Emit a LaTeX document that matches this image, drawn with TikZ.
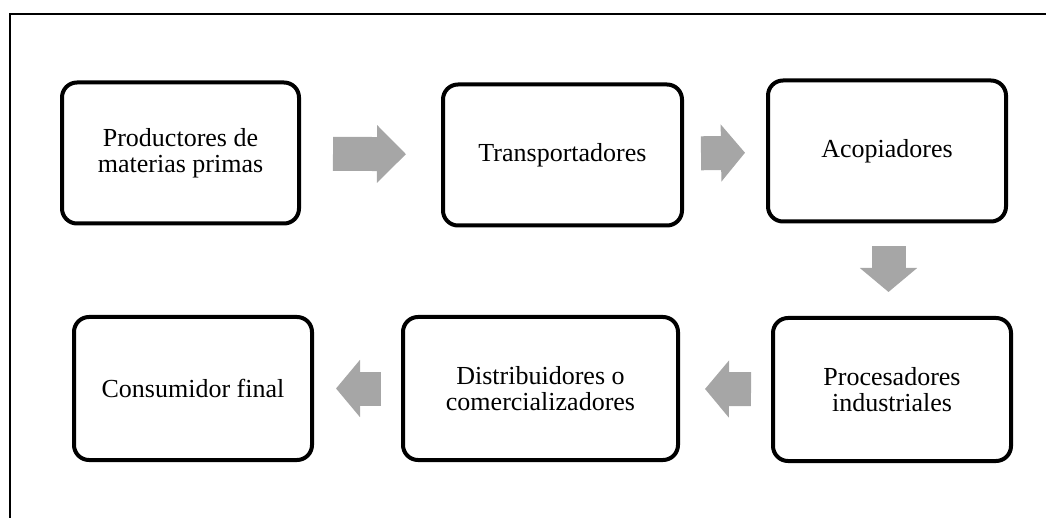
\documentclass[tikz,border=0pt]{standalone}
\usepackage{fontspec}
\setmainfont{Liberation Serif}
\usetikzlibrary{arrows.meta}
\definecolor{flechagris}{HTML}{A6A6A6}
\begin{document}
\begin{tikzpicture}[x=1pt,y=-1pt,
  caja/.style={draw,line width=4pt,rounded corners=15pt,minimum height=141pt,
    minimum width=238pt,align=center,inner sep=0pt,
    font=\fontsize{26}{26}\selectfont},
  flecha/.style={draw=flechagris,line width=34pt,
    -{Triangle[length=#1,width=56pt]}},
  flecha/.default=24pt]
\useasboundingbox (0,0) rectangle (1046,518);
  % Draw frame
  \draw[line width=1.5pt] (10,518) -- (10,14) -- (1046,14);
  % Draw boxes
  %1st row
  \node[caja,minimum width=237pt] (prod) at (180.5,153) {Productores de\\materias primas};
  \node[caja,minimum width=239pt] (trans) at (562.5,155) {Transportadores};
  \node[caja] (acop) at (887,151) {Acopiadores};
  %2nd row
  \node[caja,minimum height=143pt] (proc) at (892,389.5) {Procesadores\\industriales};
  \node[caja,minimum height=143pt,minimum width=275pt] (dist) at (540.5,388.5) {Distribuidores o\\comercializadores};
  \node[caja,minimum height=143pt] (cons) at (193,388.5) {Consumidor final};
  % Draw arrows
  \draw[flecha=29pt,shorten <=32pt,shorten >=35pt] (prod) -- (trans);
  \draw[flecha,shorten <=17pt,shorten >=21pt] (trans) -- (acop);
  \draw[flecha,shorten <=23pt,shorten >=24pt] ([xshift=1.5pt]acop.south) -- ([xshift=1.5pt]acop.south |- proc.north);
  \draw[flecha,shorten <=20pt,shorten >=25pt] (proc) -- (dist);
  \draw[flecha,shorten <=20pt,shorten >=22pt] (dist) -- (cons);
\end{tikzpicture}
\end{document}
